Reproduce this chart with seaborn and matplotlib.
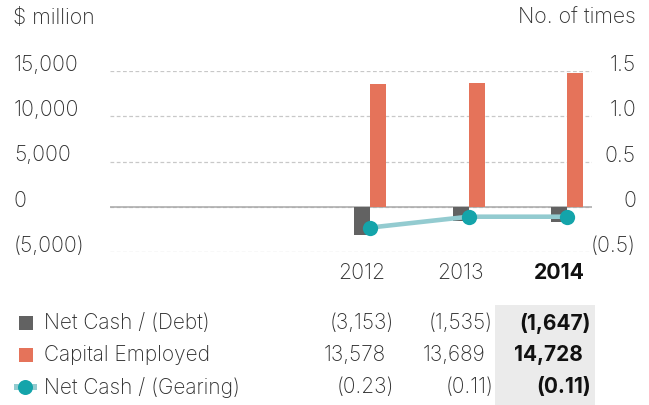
import matplotlib
matplotlib.use("Agg")
import matplotlib.pyplot as plt
import matplotlib.transforms as mtrans
from matplotlib.patches import Rectangle
from matplotlib.lines import Line2D
import pandas as pd
import seaborn as sns

# ---- data -------------------------------------------------------------
years = [2012, 2013, 2014]
net_cash = [-3153, -1535, -1647]            # $ million
capital_employed = [13578, 13689, 14728]    # $ million
gearing = [-0.23, -0.11, -0.11]             # no. of times
series_names = ["Net Cash / (Debt)", "Capital Employed", "Net Cash / (Gearing)"]
left_ticks = [-5000, 0, 5000, 10000, 15000]
left_tick_labels = ["(5,000)", "0", "5,000", "10,000", "15,000"]
right_ticks = [-0.5, 0, 0.5, 1.0, 1.5]
right_tick_labels = ["(0.5)", "0", "0.5", "1.0", "1.5"]
year_labels = ["2012", "2013", "2014"]

# ---- style ------------------------------------------------------------
DARK = "#626262"
ORANGE = "#E5735A"
TEAL = "#14A4AA"
TEAL_LIGHT = "#93CBD0"
TEXT = "#2E2E2E"
GRID = "#C8C8C8"
HIGHLIGHT = "#EBEBEB"
AX_FS = 15.3
TAB_FS = 15

sns.set_theme(style="white")
plt.rcParams["font.family"] = ["Inter", "DejaVu Sans"]
plt.rcParams["font.weight"] = "light"

W, H = 649, 405
fig = plt.figure(figsize=(W / 100, H / 100), dpi=100)
px = 72 / 100  # points per pixel


def fx(x):
    return x / W


def fy(y):
    return 1 - y / H


ax = fig.add_axes([fx(110), fy(252), (592 - 110) / W, (252 - 71) / H])

# ---- bars (left axis) -------------------------------------------------
bars = pd.DataFrame({
    "year": years * 2,
    "value": net_cash + capital_employed,
    "series": [series_names[0]] * len(years) + [series_names[1]] * len(years),
})
sns.barplot(data=bars, x="year", y="value", hue="series",
            hue_order=series_names[:2], palette=[DARK, ORANGE],
            native_scale=True, width=0.325, dodge=True, saturation=1,
            errorbar=None, legend=False, linewidth=0, ax=ax, zorder=2)

ax.set_xlim(2009.36, 2014.25)
ax.set_ylim(left_ticks[0], left_ticks[-1])
ax.set_yticks(left_ticks)
ax.set_yticklabels(left_tick_labels)
ax.yaxis.grid(True, color=GRID, lw=0.9, ls=(0, (3, 2)))
ax.xaxis.grid(False)
ax.set_axisbelow(True)
ax.axhline(0, color="#A8A8A8", lw=1.1, zorder=1)
for s in ax.spines.values():
    s.set_visible(False)
ax.set_xlabel("")
ax.set_ylabel("")
ax.tick_params(axis="y", length=0, pad=96 * px, labelsize=AX_FS, labelcolor=TEXT)
plt.setp(ax.get_yticklabels(), ha="left", va="baseline")

ax.set_xticks(years)
ax.set_xticklabels(year_labels)
ax.tick_params(axis="x", length=0, pad=11 * px, labelsize=AX_FS, labelcolor=TEXT)
shift = mtrans.ScaledTranslation(-8 / 100, 0, fig.dpi_scale_trans)
for lab in ax.get_xticklabels():
    lab.set_transform(lab.get_transform() + shift)
ax.get_xticklabels()[-1].set_fontweight("bold")
ax.get_xticklabels()[-1].set_color("#111111")

# ---- gearing line (right axis) ---------------------------------------
ax2 = ax.twinx()
sns.lineplot(x=years, y=gearing, ax=ax2, color=TEAL_LIGHT, lw=3.3,
             marker="o", ms=11, mfc=TEAL, mec=TEAL, mew=0, zorder=3)
ax2.set_ylim(right_ticks[0], right_ticks[-1])
ax2.set_yticks(right_ticks)
ax2.set_yticklabels(right_tick_labels)
ax2.grid(False)
for s in ax2.spines.values():
    s.set_visible(False)
ax2.set_ylabel("")
ax2.tick_params(axis="y", length=0, pad=44 * px, labelsize=AX_FS, labelcolor=TEXT)
plt.setp(ax2.get_yticklabels(), ha="right", va="baseline")

# ---- axis titles ------------------------------------------------------
fig.text(fx(13), fy(18), "$ million", ha="left", va="center",
         fontsize=AX_FS, color=TEXT)
fig.text(fx(636), fy(18), "No. of times", ha="right", va="center",
         fontsize=AX_FS, color=TEXT)

# ---- data table -------------------------------------------------------
fig.add_artist(Rectangle((fx(495), fy(405)), (595 - 495) / W, (405 - 305) / H,
                         transform=fig.transFigure, color=HIGHLIGHT, lw=0,
                         zorder=0))


def fmt_amount(v):
    s = f"{abs(v):,}"
    return f"({s})" if v < 0 else s


def fmt_ratio(v):
    s = f"{abs(v):.2f}"
    return f"({s})" if v < 0 else s


rows = [
    (series_names[0], [fmt_amount(v) for v in net_cash], [v < 0 for v in net_cash]),
    (series_names[1], [fmt_amount(v) for v in capital_employed], [v < 0 for v in capital_employed]),
    (series_names[2], [fmt_ratio(v) for v in gearing], [v < 0 for v in gearing]),
]
row_y = [323, 355, 387]
col_right = [394, 493, 591]

for (name, vals, negs), y in zip(rows, row_y):
    fig.text(fx(44), fy(y), name, ha="left", va="center", fontsize=TAB_FS,
             color=TEXT)
    for j, (v, neg) in enumerate(zip(vals, negs)):
        x = col_right[j] if neg else col_right[j] - 8
        bold = j == len(vals) - 1
        fig.text(fx(x), fy(y), v, ha="right", va="center", fontsize=TAB_FS,
                 color="#111111" if bold else TEXT,
                 fontweight="bold" if bold else "light")

# legend keys
for color, y in zip([DARK, ORANGE], row_y[:2]):
    fig.add_artist(Rectangle((fx(19), fy(y + 7)), 14 / W, 14 / H,
                             transform=fig.transFigure, color=color, lw=0))
fig.add_artist(Line2D([fx(14), fx(37)], [fy(row_y[2]), fy(row_y[2])],
                      transform=fig.transFigure, color=TEAL_LIGHT, lw=6 * px,
                      solid_capstyle="butt"))
fig.add_artist(Line2D([fx(25)], [fy(row_y[2])], transform=fig.transFigure,
                      marker="o", ms=15 * px, mfc=TEAL, mec=TEAL, mew=0, lw=0))

fig.savefig("out.png", dpi=100)
